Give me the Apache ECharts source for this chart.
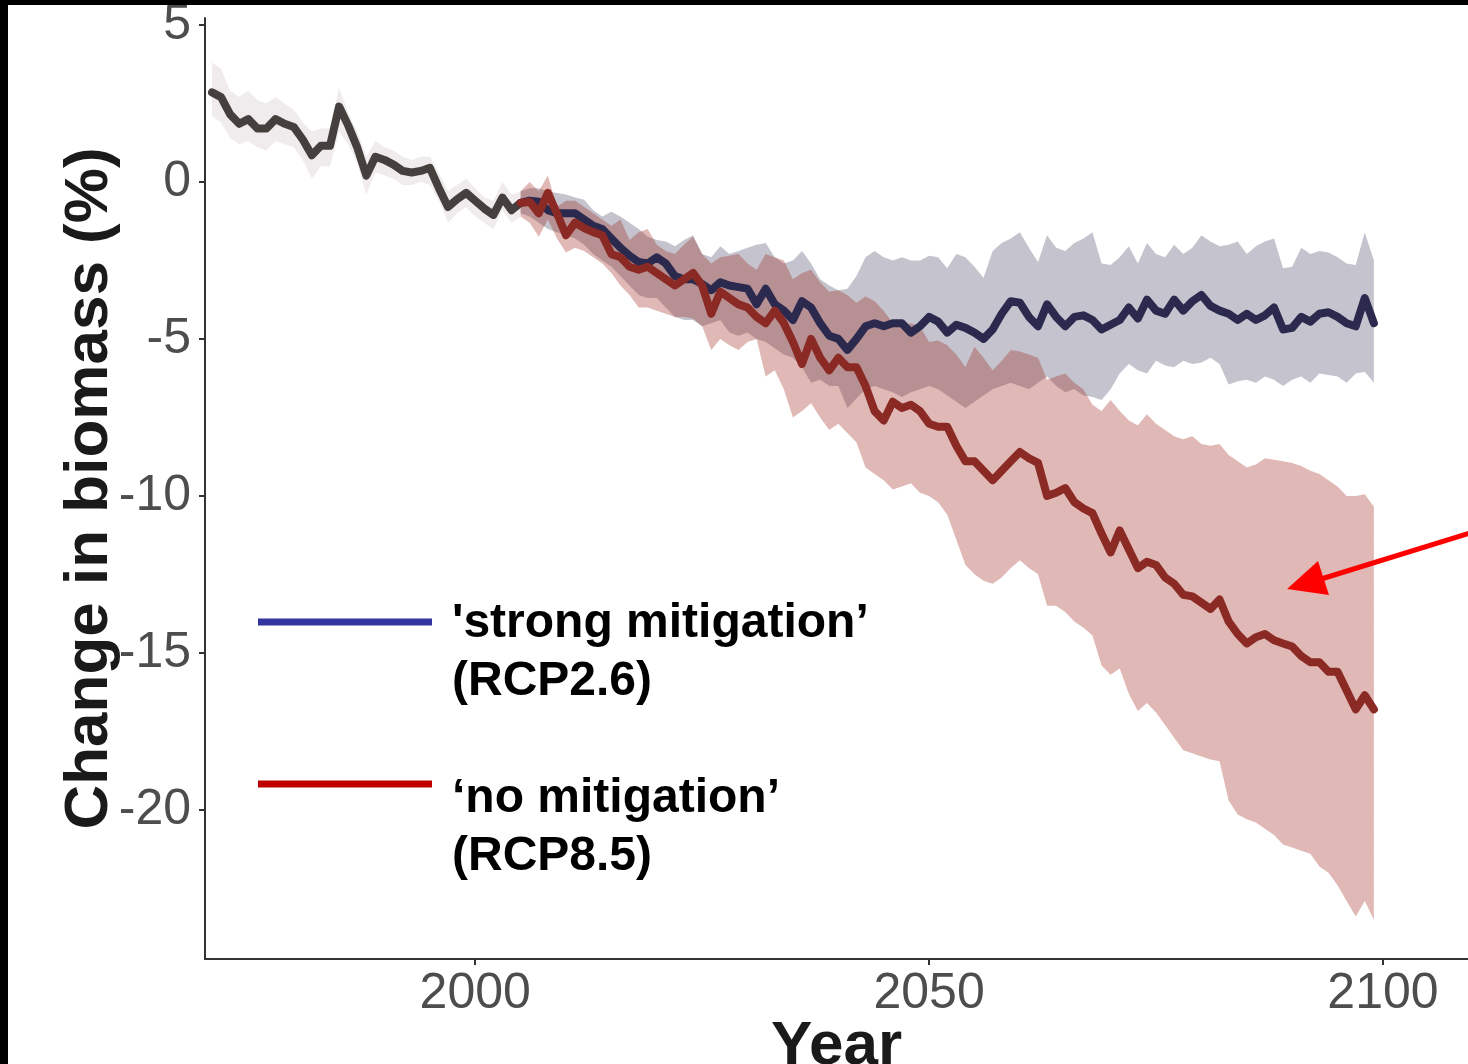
<!DOCTYPE html>
<html><head><meta charset="utf-8">
<script src="https://cdn.jsdelivr.net/npm/echarts@6/dist/echarts.min.js"></script>
<style>html,body{margin:0;padding:0;background:#fff}#c{width:1468px;height:1064px}</style>
</head><body><div id="c"></div>
<script>
const histStart = 1971;
const futureStart = 2005;
const xTicks = [2000, 2050, 2100];
const yTicks = [-20, -15, -10, -5, 0, 5];

const histMean = [2.85, 2.7, 2.15, 1.85, 2.0, 1.7, 1.7, 2.0, 1.85, 1.75, 1.35, 0.85, 1.15, 1.15, 2.4, 1.8, 1.1, 0.2, 0.8, 0.7, 0.55, 0.35, 0.3, 0.35, 0.45, -0.2, -0.8, -0.55, -0.35, -0.6, -0.85, -1.05, -0.5, -0.9, -0.67];
const histHi = [3.8, 3.6, 2.9, 2.7, 2.9, 2.6, 2.5, 2.7, 2.5, 2.3, 1.9, 1.6, 1.7, 1.7, 3.0, 2.2, 1.6, 0.8, 1.3, 1.1, 1.0, 0.8, 0.7, 0.8, 0.8, 0.3, -0.3, -0.1, 0.1, -0.2, -0.5, -0.6, 0.0, -0.4, -0.3];
const histLo = [2.1, 1.9, 1.4, 1.2, 1.3, 1.1, 1.0, 1.3, 1.2, 1.1, 0.7, 0.1, 0.5, 0.5, 1.6, 1.2, 0.6, -0.4, 0.3, 0.2, 0.1, -0.1, -0.1, 0.0, -0.1, -0.6, -1.3, -1.0, -0.8, -1.1, -1.3, -1.5, -0.9, -1.3, -1.1];

const redMean = [
 -0.67, -0.63, -1.0, -0.35, -1.0, -1.7, -1.3, -1.47, -1.6, -1.7,
 -2.3, -2.4, -2.7, -2.8, -2.7, -2.9, -3.1, -3.3, -3.1, -2.9,
 -3.3, -4.2, -3.5, -3.7, -3.9, -4.0, -4.3, -4.5, -4.1, -4.5,
 -5.1, -5.8, -5.0, -5.6, -6.0, -5.6, -5.9, -5.9, -6.5, -7.3,
 -7.6, -7.0, -7.2, -7.1, -7.3, -7.7, -7.8, -7.8, -8.4, -8.9,
 -8.9, -9.2, -9.5, -9.2, -8.9, -8.6, -8.8, -8.95, -10.0, -9.9,
 -9.75, -10.2, -10.4, -10.55, -11.2, -11.8, -11.1, -11.7, -12.3, -12.1,
 -12.2, -12.6, -12.8, -13.15, -13.2, -13.4, -13.6, -13.3, -14.0, -14.4,
 -14.7, -14.5, -14.4, -14.6, -14.7, -14.8, -15.1, -15.3, -15.3, -15.6,
 -15.6, -16.2, -16.8, -16.35, -16.8];
const redHi = [
 -0.3, 0.0, -0.3, 0.2, -0.8, -0.6, -0.6, -0.8, -1.0, -1.2,
 -1.4, -1.2, -1.85, -1.6, -1.5, -2.0, -2.2, -2.3, -2.0, -1.75,
 -2.3, -2.6, -2.4, -2.35, -2.3, -2.6, -2.8, -2.3, -2.4, -2.5,
 -3.1, -2.9, -2.8, -3.2, -3.5, -3.45, -3.6, -3.85, -3.65, -3.8,
 -4.1, -4.5, -4.6, -4.5, -4.6, -5.1, -5.05, -5.2, -5.5, -5.9,
 -5.25, -5.6, -6.0, -5.7, -5.35, -5.4, -5.5, -5.6, -6.3, -6.2,
 -6.1, -6.4, -6.6, -7.1, -7.3, -6.95, -7.3, -7.6, -7.75, -7.4,
 -7.7, -7.9, -8.1, -8.2, -8.1, -8.35, -8.4, -8.35, -8.7, -8.9,
 -9.1, -9.0, -8.8, -8.85, -8.9, -8.95, -9.05, -9.2, -9.3, -9.5,
 -9.7, -10.0, -10.0, -9.95, -10.35];
const redLo = [
 -1.1, -1.3, -1.75, -1.2, -1.8, -2.25, -2.1, -2.2, -2.4, -2.6,
 -2.9, -3.3, -3.6, -4.0, -4.0, -4.1, -4.2, -4.3, -4.3, -4.35,
 -4.6, -5.35, -5.0, -5.2, -5.35, -5.1, -5.0, -6.2, -6.0, -6.6,
 -7.5, -7.3, -7.05, -7.5, -7.9, -7.7, -8.0, -8.3, -9.1, -9.3,
 -9.5, -9.8, -9.7, -9.6, -9.9, -10.0, -10.2, -10.6, -11.4, -12.2,
 -12.5, -12.7, -12.8, -12.6, -12.3, -12.05, -12.3, -12.5, -13.5, -13.5,
 -13.7, -14.0, -14.2, -14.45, -15.4, -15.7, -15.5, -16.3, -16.85, -16.6,
 -16.9, -17.3, -17.7, -18.1, -18.2, -18.3, -18.4, -18.45, -19.7, -20.15,
 -20.3, -20.4, -20.6, -20.8, -21.1, -21.2, -21.3, -21.4, -21.8, -22.0,
 -22.4, -22.9, -23.4, -22.9, -23.5];

const blueMean = [
 -0.67, -0.6, -0.63, -0.9, -1.0, -1.0, -1.0, -1.2, -1.4, -1.5,
 -1.8, -2.1, -2.35, -2.55, -2.6, -2.4, -2.6, -3.0, -3.1, -3.1,
 -3.25, -3.45, -3.2, -3.3, -3.35, -3.4, -3.9, -3.4, -3.9, -4.1,
 -4.4, -3.8, -4.0, -4.5, -4.9, -5.0, -5.35, -5.0, -4.6, -4.5,
 -4.6, -4.5, -4.5, -4.8, -4.6, -4.3, -4.45, -4.8, -4.55, -4.65,
 -4.8, -5.0, -4.7, -4.2, -3.8, -3.85, -4.3, -4.6, -3.9, -4.3,
 -4.6, -4.3, -4.25, -4.4, -4.7, -4.55, -4.4, -4.0, -4.35, -3.75,
 -4.1, -4.2, -3.75, -4.1, -3.8, -3.6, -3.95, -4.1, -4.2, -4.4,
 -4.2, -4.4, -4.25, -4.0, -4.7, -4.65, -4.3, -4.45, -4.2, -4.15,
 -4.3, -4.5, -4.6, -3.7, -4.5];
const blueHi = [
 -0.3, -0.2, -0.2, -0.3, -0.35, -0.4, -0.5, -0.57, -0.9, -1.1,
 -0.95, -1.1, -1.3, -1.5, -1.75, -1.85, -1.9, -2.05, -1.85, -1.7,
 -2.3, -2.4, -2.05, -2.3, -2.2, -2.1, -2.0, -1.95, -2.4, -2.6,
 -2.5, -2.2, -2.6, -3.1, -3.3, -3.45, -3.4, -3.0, -2.4, -2.2,
 -2.4, -2.5, -2.4, -2.5, -2.5, -2.35, -2.4, -2.75, -2.3, -2.4,
 -2.7, -3.05, -2.2, -1.95, -1.8, -1.6, -2.1, -2.55, -1.7, -2.1,
 -2.2, -1.95, -1.8, -1.6, -2.6, -2.65, -2.4, -2.05, -2.6, -1.95,
 -2.3, -2.4, -2.0, -2.3, -2.1, -1.7, -1.9, -2.05, -2.0, -1.9,
 -2.3, -2.05, -1.9, -1.8, -2.75, -2.7, -2.1, -2.3, -2.2, -2.25,
 -2.4, -2.6, -2.65, -1.6, -2.5];
const blueLo = [
 -1.0, -1.1, -1.3, -1.5, -1.6, -1.7, -1.8, -2.0, -2.3, -2.5,
 -2.7, -3.0, -3.3, -3.6, -3.7, -3.7, -4.0, -4.3, -4.4, -4.4,
 -4.6, -4.5, -4.4, -4.8, -4.9, -4.8, -5.0, -5.1, -5.3, -5.5,
 -5.6, -5.9, -6.4, -6.3, -6.5, -6.5, -7.2, -6.9, -6.6, -6.5,
 -6.6, -6.7, -6.85, -6.7, -6.6, -6.5, -6.6, -6.8, -7.0, -7.2,
 -7.0, -6.8, -6.6, -6.5, -6.4, -6.5, -6.6, -6.4, -6.2, -6.5,
 -6.7, -6.6, -6.8, -6.85, -6.95, -6.6, -6.1, -5.8, -6.0, -6.1,
 -5.7, -5.85, -5.9, -5.7, -5.8, -5.75, -5.6, -5.8, -6.45, -6.35,
 -6.3, -6.4, -6.2, -6.3, -6.5, -6.3, -6.2, -6.4, -6.1, -6.15,
 -6.2, -6.4, -6.1, -6.05, -6.4];

const FONT = '"Liberation Sans", Arial, Helvetica, sans-serif';

function yearsFrom(start, n) { const a = []; for (let i = 0; i < n; i++) a.push(start + i); return a; }
const histYears = yearsFrom(histStart, histMean.length);
const futYears = yearsFrom(futureStart, redMean.length);

function band(name, years, lo, hi, fill, z) {
  return {
    type: 'custom', name: name, silent: true, z: z,
    data: years.map((y, i) => [y, lo[i], hi[i]]),
    encode: { x: 0, y: [1, 2] },
    renderItem: function (params, api) {
      if (params.dataIndex !== 0) return null;
      const pts = [];
      for (let i = 0; i < years.length; i++) pts.push(api.coord([years[i], hi[i]]));
      for (let i = years.length - 1; i >= 0; i--) pts.push(api.coord([years[i], lo[i]]));
      return { type: 'polygon', shape: { points: pts }, style: { fill: fill, stroke: null } };
    }
  };
}
function line(name, years, vals, color, z) {
  return {
    type: 'line', name: name, z: z, showSymbol: false, silent: true,
    data: years.map((y, i) => [y, vals[i]]),
    lineStyle: { color: color, width: 8, join: 'round', cap: 'round' },
    itemStyle: { color: color }
  };
}

const chart = echarts.init(document.getElementById('c'), null, { renderer: 'canvas' });
chart.setOption({
  backgroundColor: '#ffffff',
  animation: false,
  grid: { left: 205, right: 0, top: 18, bottom: 105, containLabel: false, outerBoundsMode: 'none' },
  xAxis: {
    type: 'value', min: 1970.23, max: 2109.37,
    name: 'Year', nameLocation: 'middle', nameGap: 57, nameMoveOverlap: false,
    nameTextStyle: { fontFamily: FONT, fontWeight: 'bold', fontSize: 62, color: '#1a1a1a' },
    axisLine: { show: true, onZero: false, lineStyle: { color: '#333333', width: 2 } },
    axisTick: { show: true, length: 6, lineStyle: { color: '#333333', width: 2 }, customValues: xTicks },
    axisLabel: { fontFamily: FONT, fontSize: 50, color: '#4d4d4d', margin: 10, customValues: xTicks, formatter: v => String(v) },
    splitLine: { show: false }
  },
  yAxis: {
    type: 'value', min: -24.75, max: 5.22,
    name: 'Change in biomass (%)', nameLocation: 'middle', nameGap: 84, nameRotate: 90, nameMoveOverlap: false,
    nameTextStyle: { fontFamily: FONT, fontWeight: 'bold', fontSize: 62, color: '#1a1a1a' },
    axisLine: { show: true, onZero: false, lineStyle: { color: '#333333', width: 2 } },
    axisTick: { show: true, length: 6, lineStyle: { color: '#333333', width: 2 }, customValues: yTicks },
    axisLabel: { fontFamily: FONT, fontSize: 50, color: '#4d4d4d', margin: 14, customValues: yTicks, formatter: v => String(v) },
    splitLine: { show: false }
  },
  series: [
    band('hist band', histYears, histLo, histHi, 'rgba(150,110,120,0.14)', 1),
    band('RCP2.6 band', futYears, blueLo, blueHi, 'rgba(45,44,79,0.28)', 2),
    band('RCP8.5 band', futYears, redLo, redHi, 'rgba(152,22,12,0.30)', 3),
    line('historical', histYears, histMean, '#45403d', 4),
    line('RCP2.6', futYears, blueMean, '#2b2a4e', 5),
    line('RCP8.5', futYears, redMean, '#8b2a24', 6)
  ],
  graphic: [
    { type: 'line', shape: { x1: 258, y1: 622, x2: 432, y2: 622 }, style: { stroke: '#3333a0', lineWidth: 7 }, z: 10 },
    { type: 'text', left: 452, top: 600, style: { text: "'strong mitigation’", font: 'bold 48px ' + FONT, fill: '#000' }, z: 10 },
    { type: 'text', left: 452, top: 658, style: { text: '(RCP2.6)', font: 'bold 48px ' + FONT, fill: '#000' }, z: 10 },
    { type: 'line', shape: { x1: 258, y1: 784, x2: 432, y2: 784 }, style: { stroke: '#c00000', lineWidth: 7 }, z: 10 },
    { type: 'text', left: 452, top: 775, style: { text: '‘no mitigation’', font: 'bold 48px ' + FONT, fill: '#000' }, z: 10 },
    { type: 'text', left: 452, top: 833, style: { text: '(RCP8.5)', font: 'bold 48px ' + FONT, fill: '#000' }, z: 10 },
    { type: 'line', shape: { x1: 1470, y1: 533, x2: 1318, y2: 580 }, style: { stroke: '#ff0000', lineWidth: 5 }, z: 10 },
    { type: 'polygon', shape: { points: [[1287, 589], [1318, 561], [1329, 595]] }, style: { fill: '#ff0000' }, z: 10 },
    { type: 'rect', shape: { x: 0, y: 0, width: 8, height: 1064 }, style: { fill: '#000' }, z: 20 },
    { type: 'rect', shape: { x: 0, y: 0, width: 1468, height: 5 }, style: { fill: '#000' }, z: 20 }
  ]
});
</script></body></html>
